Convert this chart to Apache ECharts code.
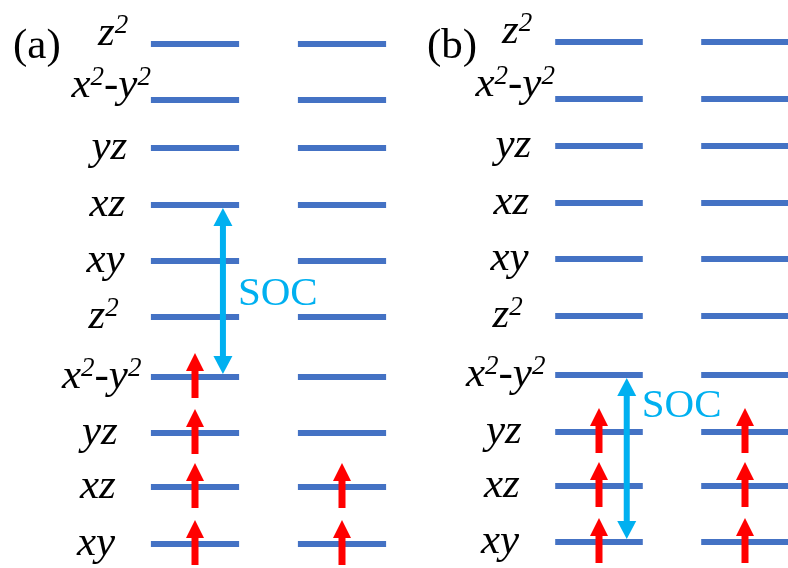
<!DOCTYPE html>
<html>
<head>
<meta charset="utf-8">
<script src="https://cdn.jsdelivr.net/npm/echarts@6/dist/echarts.min.js"></script>
<style>
html, body { margin: 0; padding: 0; background: #fff; }
#main { width: 788px; height: 568px; }
</style>
</head>
<body>
<div id="main"></div>
<script>
// orbitals from bottom to top ({s|..} = superscript)
var orbitals = ['xy', 'xz', 'yz', 'x{s|2}-y{s|2}', 'z{s|2}', 'xy', 'xz', 'yz', 'x{s|2}-y{s|2}', 'z{s|2}'];
var columns = ['1', '2'];
// level energies, arb. units
var levelsA = [24, 81, 135, 191, 251, 307, 363, 420, 468, 524];
var levelsB = [26, 82, 136, 193, 252, 309, 365, 422, 469, 526];
// spin-up electrons per column, bottom to top
var occA1 = [1, 1, 1, 1, 0, 0, 0, 0, 0, 0];
var occA2 = [1, 1, 0, 0, 0, 0, 0, 0, 0, 0];
var occB1 = [1, 1, 1, 0, 0, 0, 0, 0, 0, 0];
var occB2 = [1, 1, 1, 0, 0, 0, 0, 0, 0, 0];
// SOC couples these two levels
var socA = [3, 6];
var socB = [0, 3];
var panelNames = ['(a)', '(b)'];

var BLUE = '#4472C4', RED = '#FF0000', CYAN = '#00B0F0';
var SERIF = '"Liberation Serif", "Times New Roman", serif';
// where the SOC word sits (energy units) and label lift for crowded top rows
var socTextAt = [274, 162];
var labelLift = { 8: 14, 9: 10 };

function renderLevel(params, api) {
	var p = api.coord([api.value(0), api.value(1)]);
	var w = api.size([1, 0])[0] * 0.6;
	return {
		type : 'line',
		shape : { x1 : p[0] - w / 2, y1 : p[1], x2 : p[0] + w / 2, y2 : p[1] },
		style : { stroke : BLUE, lineWidth : 6 }
	};
}

function renderSpin(params, api) {
	var p = api.coord([api.value(0), api.value(1)]);
	var x = p[0], y = p[1];
	return {
		type : 'group',
		children : [ {
			type : 'rect',
			shape : { x : x - 3.5, y : y - 7, width : 7, height : 28 },
			style : { fill : RED }
		}, {
			type : 'polygon',
			shape : { points : [ [ x - 9, y - 6 ], [ x + 9, y - 6 ], [ x, y - 24 ] ] },
			style : { fill : RED }
		} ]
	};
}

function renderLabel(params, api) {
	var i = api.value(2);
	var p = api.coord([0, api.value(1)]);
	return {
		type : 'text',
		style : {
			text : orbitals[i],
			x : p[0] - 99 + 1.9 * i,
			y : p[1] - (labelLift[i] || 0),
			fill : '#000',
			fontFamily : SERIF,
			fontStyle : 'italic',
			fontSize : 43,
			align : 'center',
			verticalAlign : 'middle',
			rich : {
				s : { fontSize : 27, fontStyle : 'italic', fontFamily : SERIF, verticalAlign : 'top' }
			}
		}
	};
}

function renderSoc(params, api) {
	var lo = api.coord([0, api.value(0)]);
	var hi = api.coord([0, api.value(1)]);
	var t = api.coord([0, api.value(2)]);
	var x = lo[0] + api.size([1, 0])[0] * 0.19;
	var y1 = hi[1] + 3, y2 = lo[1] - 3;
	return {
		type : 'group',
		children : [ {
			type : 'rect',
			shape : { x : x - 3, y : y1 + 16, width : 6, height : y2 - y1 - 32 },
			style : { fill : CYAN }
		}, {
			type : 'polygon',
			shape : { points : [ [ x - 9.5, y1 + 18 ], [ x + 9.5, y1 + 18 ], [ x, y1 ] ] },
			style : { fill : CYAN }
		}, {
			type : 'polygon',
			shape : { points : [ [ x - 9.5, y2 - 18 ], [ x + 9.5, y2 - 18 ], [ x, y2 ] ] },
			style : { fill : CYAN }
		}, {
			type : 'text',
			style : {
				text : 'SOC', x : x + 15, y : t[1], fill : CYAN,
				fontFamily : SERIF, fontSize : 41,
				align : 'left', verticalAlign : 'middle'
			}
		} ]
	};
}

function panelSeries(k, levels, occ1, occ2, soc) {
	var lv = [], spins = [], labels = [];
	var occ = [occ1, occ2];
	for (var c = 0; c < columns.length; c++) {
		for (var i = 0; i < levels.length; i++) {
			lv.push([c, levels[i]]);
			if (occ[c][i]) spins.push([c, levels[i]]);
		}
	}
	for (var i = 0; i < levels.length; i++) {
		labels.push([0, levels[i], i]);
	}
	var base = { type : 'custom', xAxisIndex : k, yAxisIndex : k, silent : true };
	return [
		Object.assign({}, base, { name : 'levels', z : 2, renderItem : renderLevel, data : lv, encode : { x : 0, y : 1 } }),
		Object.assign({}, base, { name : 'spins', z : 3, renderItem : renderSpin, data : spins, encode : { x : 0, y : 1 } }),
		Object.assign({}, base, { name : 'soc', z : 4, renderItem : renderSoc,
			data : [ [ levels[soc[0]], levels[soc[1]], socTextAt[k] ] ], encode : { y : [ 0, 1 ] } }),
		Object.assign({}, base, { name : 'labels', z : 4, renderItem : renderLabel, data : labels, encode : { x : 0, y : 1 } })
	];
}

var dom = document.getElementById('main');
var myChart = echarts.init(dom, null, { renderer : 'canvas' });
var titleStyle = { fontFamily : SERIF, fontSize : 43, fontWeight : 'normal', color : '#000' };
// grids span column centre to column centre (boundaryGap off)
var option = {
	backgroundColor : '#fff',
	animation : false,
	title : [
		{ text : panelNames[0], left : 13, top : 25, padding : 0, textStyle : titleStyle },
		{ text : panelNames[1], left : 427, top : 25, padding : 0, textStyle : titleStyle }
	],
	grid : [
		{ left : 195, width : 147, top : 0, bottom : 0 },
		{ left : 599, width : 146, top : 0, bottom : 0 }
	],
	xAxis : [
		{ gridIndex : 0, type : 'category', data : columns, boundaryGap : false, show : false },
		{ gridIndex : 1, type : 'category', data : columns, boundaryGap : false, show : false }
	],
	yAxis : [
		{ gridIndex : 0, type : 'value', min : 0, max : 568, show : false },
		{ gridIndex : 1, type : 'value', min : 0, max : 568, show : false }
	],
	series : [].concat(
		panelSeries(0, levelsA, occA1, occA2, socA),
		panelSeries(1, levelsB, occB1, occB2, socB)
	)
};
myChart.setOption(option, true);
</script>
</body>
</html>
